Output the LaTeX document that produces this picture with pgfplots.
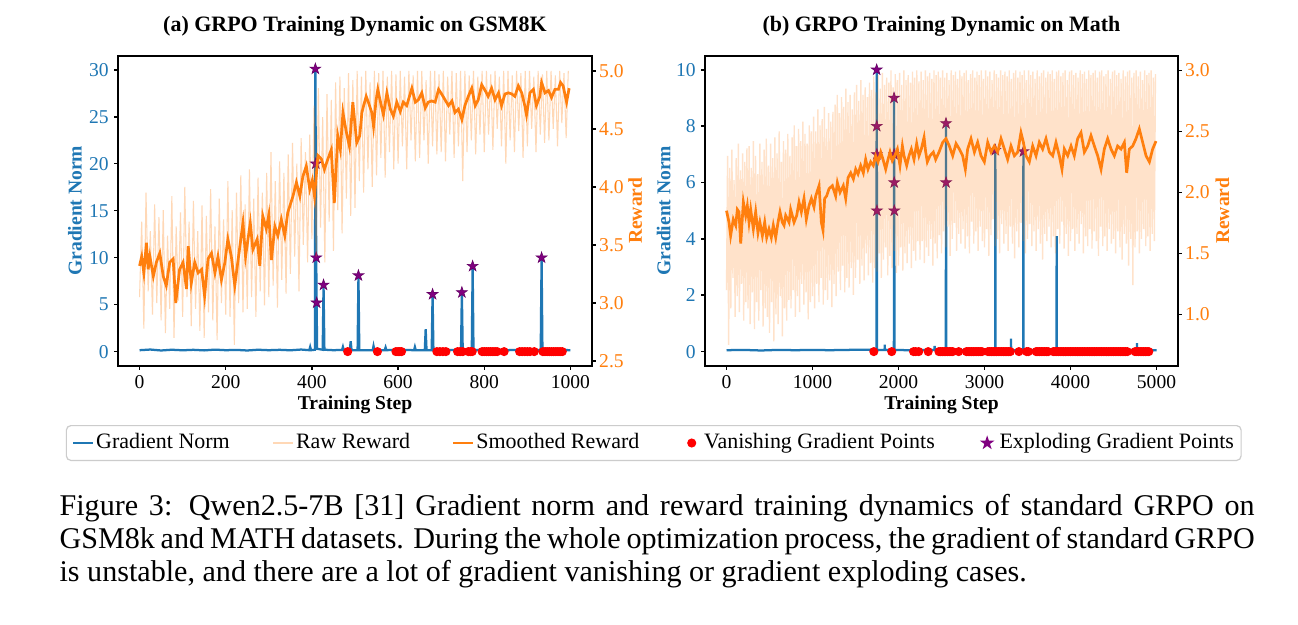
\documentclass[border=0pt]{standalone}
\usepackage{fontspec}
\setmainfont{Liberation Serif}
\usepackage{pgfplots}
\pgfplotsset{compat=1.18}

\definecolor{tabblue}{RGB}{31,119,180}
\definecolor{taborange}{RGB}{255,127,14}
\definecolor{vred}{RGB}{255,0,0}
\definecolor{epurple}{RGB}{128,0,128}

\pgfdeclareplotmark{fstar}{%
 \pgfpathmoveto{\pgfpointpolar{90}{\pgfplotmarksize}}%
 \pgfpathlineto{\pgfpointpolar{126}{0.382\pgfplotmarksize}}%
 \pgfpathlineto{\pgfpointpolar{162}{\pgfplotmarksize}}%
 \pgfpathlineto{\pgfpointpolar{198}{0.382\pgfplotmarksize}}%
 \pgfpathlineto{\pgfpointpolar{234}{\pgfplotmarksize}}%
 \pgfpathlineto{\pgfpointpolar{270}{0.382\pgfplotmarksize}}%
 \pgfpathlineto{\pgfpointpolar{306}{\pgfplotmarksize}}%
 \pgfpathlineto{\pgfpointpolar{342}{0.382\pgfplotmarksize}}%
 \pgfpathlineto{\pgfpointpolar{18}{\pgfplotmarksize}}%
 \pgfpathlineto{\pgfpointpolar{54}{0.382\pgfplotmarksize}}%
 \pgfpathclose\pgfusepathqfillstroke}

\pgfplotsset{
  gbase/.style={
    scale only axis, anchor=north west, width=157.46pt, height=102.98pt,
    /pgf/number format/assume math mode=true,
    tick align=outside, major tick length=1.3pt,
    every tick/.style={black, line width=0.5pt},
    axis line style={line width=0.55pt},
    tick label style={font=\fontsize{6.5}{7.8}\selectfont},
    label style={font=\fontsize{6.5}{7.8}\selectfont\bfseries},
    title style={font=\fontsize{7.3}{8.8}\selectfont\bfseries, at={(axis description cs:0.5,1)}, anchor=base, yshift=2.1pt},
    xlabel style={at={(axis description cs:0.5,0)}, anchor=base, yshift=-14.5pt},
    scaled x ticks=false,
    xticklabel style={inner sep=0pt, yshift=-1.9pt, /pgf/number format/1000 sep={}},
  },
  lineleg/.style={legend image code/.code={\draw[##1] (0pt,0pt) -- (6.6pt,0pt);}},
  markleg/.style={legend image code/.code={\path (0pt,0pt) (6.6pt,0pt); \draw[mark repeat=2, mark phase=2, ##1] plot coordinates {(0pt,0pt) (3.3pt,0pt) (6.6pt,0pt)};}},
  gradline/.style={tabblue, line width=0.75pt, forget plot},
  rawline/.style={taborange, draw opacity=0.3, line width=0.35pt, forget plot},
  smoothline/.style={taborange, line width=0.9pt, forget plot},
  vanish/.style={only marks, mark=*, mark size=1.3pt, vred, forget plot},
  explode/.style={only marks, mark=fstar, mark size=1.9pt, epurple, mark options={draw=epurple!80!black, line width=0.2pt}, forget plot},
}

\begin{document}
\begin{tikzpicture}
\path[fill=white, use as bounding box] (0pt,0pt) rectangle (431.19pt,-207.29pt);

% ---------- (a) left: gradient norm ----------
\begin{axis}[gbase, at={(39.2pt,-18.5pt)},
  xmin=-50, xmax=1050, ymin=-1.5, ymax=31.5,
  xtick={0,200,400,600,800,1000}, ytick={0,5,10,15,20,25,30}, tick pos=left,
  title={(a) GRPO Training Dynamic on GSM8K},
  xlabel={Training Step}, ylabel={Gradient Norm},
  ylabel style={text=tabblue, at={(axis description cs:-0.0907,0.5)}, anchor=center},
  yticklabel style={text=tabblue, inner sep=0pt, xshift=-1.6pt},
  legend columns=5, legend cell align=left,
  legend style={at={(axis description cs:1.1303,-0.1913)}, anchor=north,
    draw=black!20, line width=0.4pt, rounded corners=1.5pt, fill=white,
    font=\fontsize{7.3}{8.8}\selectfont, inner xsep=1.8pt, inner ysep=1.5pt,
    nodes={inner xsep=0.6pt, inner ysep=1pt},
    /tikz/every even column/.append style={column sep=13.3pt}},
]
\addplot[gradline] coordinates {(0,0.15)(25,0.22)(50,0.12)(75,0.2)(100,0.14)(125,0.19)(150,0.13)(175,0.21)(200,0.15)(225,0.18)(250,0.12)(275,0.2)(300,0.15)(325,0.19)(350,0.14)(375,0.22)(394,0.15)(396,0.5)(398,0.15)(407,0.2)(408,30.1)(409,20)(410,10)(411,5.2)(412,0.3)(425,0.2)(427,7.1)(429,0.2)(450,0.15)(470,0.18)(472,0.5)(474,0.15)(488,0.15)(490,1.1)(492,0.15)(506,0.15)(508,8.1)(510,0.15)(541,0.15)(543,0.6)(545,0.15)(569,0.15)(571,0.45)(573,0.15)(600,0.2)(637,0.15)(639,0.5)(641,0.15)(662,0.15)(664,2.4)(666,0.15)(678,0.15)(680,6.1)(682,0.15)(700,0.2)(746,0.15)(748,6.3)(750,0.15)(771,0.15)(773,9.1)(775,0.15)(800,0.2)(850,0.15)(900,0.2)(931,0.15)(933,10)(935,0.15)(960,0.2)(1000,0.15)};
\addplot[vanish] coordinates {(483,0)(552,0)(595,0)(600,0)(604,0)(608,0)(690,0)(697,0)(704,0)(711,0)(738,0)(744,0)(750,0)(763,0)(768,0)(772,0)(795,0)(800,0)(805,0)(810,0)(815,0)(820,0)(825,0)(830,0)(846,0)(882,0)(888,0)(894,0)(900,0)(906,0)(916,0)(936,0)(941,0)(946,0)(951,0)(956,0)(961,0)(966,0)(971,0)(976,0)(981,0)};
\addplot[explode] coordinates {(408,30.1)(409,20)(410,10)(411,5.2)(427,7.1)(508,8.1)(680,6.1)(748,6.3)(773,9.1)(933,10)};
\addlegendimage{lineleg, tabblue, line width=0.9pt}\addlegendentry{Gradient Norm}
\addlegendimage{lineleg, taborange, draw opacity=0.3, line width=0.9pt}\addlegendentry{Raw Reward}
\addlegendimage{lineleg, taborange, line width=0.9pt}\addlegendentry{Smoothed Reward}
\addlegendimage{markleg, only marks, mark=*, mark size=1.3pt, vred}\addlegendentry{Vanishing Gradient Points}
\addlegendimage{markleg, only marks, mark=fstar, mark size=1.9pt, epurple}\addlegendentry{Exploding Gradient Points}
\end{axis}

% ---------- (a) left: reward ----------
\begin{axis}[gbase, at={(39.2pt,-18.5pt)},
  xmin=-50, xmax=1050, ymin=2.46, ymax=5.13,
  axis y line*=right, axis x line=none,
  ytick={2.5,3,3.5,4,4.5,5},
  ylabel={Reward},
  ylabel style={text=taborange, at={(axis description cs:1.0911,0.5)}, anchor=center},
  yticklabel style={text=taborange, inner sep=0pt, xshift=0.9pt, /pgf/number format/.cd, fixed, fixed zerofill, precision=1},
]
\addplot[rawline] table[header=false, row sep=\\, x expr=\coordindex*5, y index=0]{
3.05\\3.70\\2.78\\3.95\\3.10\\3.62\\2.90\\3.85\\3.00\\3.74\\
2.85\\3.80\\2.74\\3.58\\2.95\\3.92\\2.70\\3.66\\3.02\\3.78\\
2.88\\4.00\\3.05\\3.70\\2.80\\3.88\\2.95\\3.62\\2.76\\3.84\\
2.70\\3.75\\2.92\\3.98\\2.85\\3.66\\2.68\\3.90\\3.00\\3.72\\
2.90\\4.05\\2.88\\3.80\\2.64\\3.95\\3.00\\4.10\\2.92\\3.85\\
2.95\\4.15\\3.05\\3.90\\2.88\\4.08\\3.10\\3.95\\2.98\\4.12\\
3.05\\4.30\\3.15\\4.05\\2.96\\4.22\\3.20\\4.12\\3.08\\4.28\\
3.25\\4.38\\3.40\\4.20\\3.10\\4.42\\3.50\\4.30\\3.35\\4.45\\
3.55\\4.70\\3.40\\4.85\\3.65\\4.60\\3.35\\4.80\\3.70\\4.75\\
3.45\\4.90\\3.80\\4.95\\3.60\\4.85\\3.90\\4.98\\3.75\\4.92\\
3.82\\5.00\\4.05\\4.95\\3.95\\5.00\\4.15\\4.90\\4.00\\5.00\\
4.10\\4.98\\4.25\\5.00\\4.08\\4.95\\4.30\\5.00\\4.15\\4.97\\
4.20\\5.00\\4.35\\4.95\\4.15\\5.00\\4.40\\4.96\\4.22\\5.00\\
4.25\\5.00\\4.40\\4.92\\4.20\\5.00\\4.35\\5.00\\4.28\\4.97\\
4.30\\5.00\\4.22\\4.95\\4.45\\5.00\\4.25\\4.98\\4.35\\5.00\\
4.05\\5.00\\4.30\\4.96\\4.40\\5.00\\4.28\\4.95\\4.45\\5.00\\
4.30\\5.00\\4.45\\4.97\\4.32\\5.00\\4.50\\4.95\\4.35\\5.00\\
4.20\\5.00\\4.40\\4.96\\4.30\\5.00\\4.48\\4.98\\4.25\\5.00\\
4.35\\5.00\\4.50\\4.95\\4.30\\5.00\\4.45\\4.97\\4.38\\5.00\\
4.40\\5.00\\4.50\\4.96\\4.35\\5.00\\4.55\\4.98\\4.42\\5.00\\
};
\addplot[smoothline] coordinates {(0,3.32)(5,3.40)(10,3.26)(16,3.52)(20,3.29)(24,3.40)(32,3.23)(39,3.35)(47,3.43)(55,3.23)(62,3.15)(70,3.35)(78,3.38)(84,3.00)(93,3.29)(101,3.35)(109,3.12)(113,3.49)(120,3.17)(128,3.35)(136,3.26)(144,3.29)(151,3.06)(159,3.38)(167,3.43)(175,3.26)(182,3.40)(190,3.20)(198,3.35)(205,3.55)(213,3.40)(221,3.15)(229,3.38)(240,3.69)(246,3.40)(257,3.69)(263,3.46)(273,3.55)(279,3.32)(286,3.75)(294,3.64)(300,3.76)(306,3.37)(314,3.66)(321,3.58)(329,3.72)(337,3.58)(344,3.78)(356,3.92)(364,4.04)(372,3.92)(379,4.09)(387,4.18)(395,3.98)(401,4.06)(406,3.92)(414,4.27)(422,4.24)(429,4.15)(437,4.24)(445,4.32)(452,3.86)(460,4.44)(466,4.32)(472,4.64)(480,4.47)(487,4.35)(495,4.73)(504,4.38)(511,4.44)(516,4.64)(520,4.70)(526,4.78)(531,4.73)(539,4.64)(543,4.52)(549,4.75)(553,4.84)(558,4.75)(566,4.62)(574,4.81)(582,4.67)(589,4.61)(597,4.73)(605,4.65)(612,4.73)(620,4.70)(632,4.85)(640,4.73)(647,4.75)(655,4.81)(663,4.68)(670,4.73)(678,4.74)(686,4.73)(694,4.84)(701,4.80)(709,4.75)(717,4.70)(725,4.74)(732,4.64)(740,4.67)(748,4.58)(755,4.70)(763,4.78)(771,4.85)(779,4.70)(786,4.75)(794,4.88)(802,4.83)(809,4.78)(817,4.85)(825,4.75)(833,4.81)(840,4.70)(848,4.80)(856,4.81)(864,4.80)(871,4.78)(879,4.87)(887,4.81)(894,4.70)(898,4.62)(906,4.81)(914,4.84)(921,4.70)(929,4.78)(933,4.90)(941,4.81)(949,4.83)(956,4.77)(964,4.84)(972,4.84)(977,4.90)(983,4.87)(991,4.73)(997,4.85)};
\end{axis}

% ---------- (b) right: gradient norm ----------
\begin{axis}[gbase, at={(234.2pt,-18.5pt)}, width=157.13pt,
  xmin=-250, xmax=5250, ymin=-0.5, ymax=10.5,
  xtick={0,1000,2000,3000,4000,5000}, ytick={0,2,4,6,8,10}, tick pos=left,
  title={(b) GRPO Training Dynamic on Math},
  xlabel={Training Step}, ylabel={Gradient Norm},
  ylabel style={text=tabblue, at={(axis description cs:-0.0873,0.5)}, anchor=center},
  yticklabel style={text=tabblue, inner sep=0pt, xshift=-1.6pt},
]
\addplot[gradline] coordinates {(0,0.05)(200,0.06)(400,0.04)(600,0.06)(800,0.05)(1000,0.06)(1200,0.05)(1400,0.06)(1600,0.07)(1744,0.06)(1746,10)(1747,8)(1748,7)(1749,5)(1751,0.06)(1838,0.06)(1840,0.25)(1842,0.06)(1946,0.06)(1948,9)(1949,7)(1950,6)(1951,5)(1953,0.06)(2100,0.05)(2418,0.06)(2420,0.2)(2422,0.06)(2550,0.06)(2552,8.1)(2553,6)(2555,0.06)(2800,0.05)(3124,0.05)(3126,7.15)(3128,0.05)(3306,0.05)(3308,0.46)(3310,0.05)(3450,0.05)(3452,7.1)(3454,0.05)(3837,0.05)(3839,4.1)(3841,0.05)(4000,0.06)(4200,0.05)(4500,0.06)(4771,0.05)(4773,0.3)(4775,0.05)(5000,0.05)};
\addplot[vanish] coordinates {(1713,0)(1921,0)(2175,0)(2200,0)(2235,0)(2345,0)(2470,0)(2490,0)(2510,0)(2530,0)(2550,0)(2570,0)(2590,0)(2610,0)(2630,0)(2700,0)(2790,0)(2810,0)(2830,0)(2850,0)(2870,0)(2890,0)(2910,0)(2930,0)(2950,0)(2970,0)(3040,0)(3060,0)(3080,0)(3100,0)(3120,0)(3140,0)(3160,0)(3180,0)(3200,0)(3220,0)(3240,0)(3260,0)(3280,0)(3300,0)(3400,0)(3490,0)(3510,0)(3600,0)(3620,0)(3640,0)(3660,0)(3680,0)(3700,0)(3720,0)(3740,0)(3800,0)(3820,0)(3840,0)(3860,0)(3880,0)(3900,0)(3920,0)(3940,0)(3960,0)(3980,0)(4000,0)(4020,0)(4040,0)(4060,0)(4080,0)(4100,0)(4120,0)(4140,0)(4160,0)(4180,0)(4200,0)(4220,0)(4240,0)(4260,0)(4280,0)(4300,0)(4320,0)(4340,0)(4360,0)(4380,0)(4400,0)(4420,0)(4440,0)(4460,0)(4480,0)(4500,0)(4520,0)(4540,0)(4560,0)(4580,0)(4600,0)(4620,0)(4640,0)(4660,0)(4750,0)(4770,0)(4790,0)(4810,0)(4830,0)(4850,0)(4870,0)(4890,0)(4910,0)};
\addplot[explode] coordinates {(1746,10)(1747,8)(1748,7)(1749,5)(1948,9)(1949,7)(1950,6)(1951,5)(2552,8.1)(2553,6)(3126,7.15)(3452,7.1)};
\end{axis}

% ---------- (b) right: reward ----------
\begin{axis}[gbase, at={(234.2pt,-18.5pt)}, width=157.13pt,
  xmin=-250, xmax=5250, ymin=0.58, ymax=3.12,
  axis y line*=right, axis x line=none,
  ytick={1,1.5,2,2.5,3},
  ylabel={Reward},
  ylabel style={text=taborange, at={(axis description cs:1.0939,0.5)}, anchor=center},
  yticklabel style={text=taborange, inner sep=0pt, xshift=0.9pt, /pgf/number format/.cd, fixed, fixed zerofill, precision=1},
]
\addplot[rawline, draw opacity=0.22, line width=0.45pt] table[header=false, row sep=\\, x expr=\coordindex*12.5, y index=0]{
1.20\\2.30\\0.75\\2.20\\1.05\\2.35\\1.30\\2.10\\0.98\\2.28\\1.15\\2.40\\1.02\\2.18\\1.25\\2.32\\0.95\\2.25\\1.10\\2.36\\
1.05\\2.38\\0.92\\2.20\\1.18\\2.42\\0.88\\2.30\\1.10\\2.15\\0.95\\2.40\\1.20\\2.25\\0.90\\2.35\\1.05\\2.44\\0.98\\2.22\\
0.85\\2.40\\1.10\\2.28\\0.78\\2.45\\1.00\\2.32\\0.92\\2.50\\1.15\\2.25\\0.82\\2.42\\1.05\\2.35\\0.95\\2.48\\1.12\\2.30\\
1.05\\2.45\\1.20\\2.55\\0.98\\2.38\\1.15\\2.52\\1.02\\2.42\\1.25\\2.58\\1.08\\2.48\\1.18\\2.40\\0.96\\2.55\\1.10\\2.50\\
1.15\\2.62\\1.05\\2.50\\1.25\\2.68\\1.10\\2.55\\1.30\\2.60\\1.08\\2.70\\1.20\\2.52\\1.12\\2.65\\1.28\\2.58\\1.06\\2.66\\
1.25\\2.72\\1.15\\2.80\\1.35\\2.65\\1.20\\2.78\\1.40\\2.70\\1.18\\2.85\\1.30\\2.74\\1.22\\2.80\\1.38\\2.68\\1.16\\2.82\\
1.30\\2.88\\1.45\\2.75\\1.25\\2.92\\1.40\\2.80\\1.28\\2.86\\1.50\\2.78\\1.32\\2.90\\1.42\\2.84\\1.26\\2.95\\1.38\\2.82\\
1.35\\2.96\\1.50\\2.85\\1.30\\2.98\\1.45\\2.88\\1.55\\2.94\\1.32\\2.90\\1.48\\3.00\\1.38\\2.86\\1.52\\2.97\\1.34\\2.92\\
1.40\\2.98\\1.55\\2.88\\1.36\\3.00\\1.50\\2.92\\1.42\\2.96\\1.58\\2.90\\1.38\\2.99\\1.52\\2.94\\1.44\\3.00\\1.60\\2.91\\
1.45\\2.99\\1.60\\2.92\\1.42\\3.00\\1.55\\2.95\\1.48\\2.98\\1.62\\2.93\\1.40\\3.00\\1.58\\2.96\\1.46\\2.99\\1.65\\2.94\\
1.50\\3.00\\1.68\\2.94\\1.55\\2.98\\1.72\\2.92\\1.48\\3.00\\1.62\\2.96\\1.75\\2.99\\1.52\\2.93\\1.66\\3.00\\1.58\\2.95\\
1.70\\2.98\\1.54\\3.00\\1.64\\2.92\\1.50\\2.97\\1.76\\3.00\\1.58\\2.94\\1.68\\2.99\\1.52\\2.96\\1.72\\3.00\\1.60\\2.93\\
1.55\\3.00\\1.70\\2.95\\1.48\\2.99\\1.65\\2.92\\1.78\\3.00\\1.56\\2.97\\1.62\\2.94\\1.50\\3.00\\1.74\\2.96\\1.58\\2.99\\
1.66\\2.95\\1.52\\3.00\\1.72\\2.93\\1.58\\2.98\\1.46\\3.00\\1.68\\2.94\\1.55\\2.99\\1.75\\2.96\\1.60\\3.00\\1.50\\2.92\\
1.62\\3.00\\1.74\\2.96\\1.56\\2.99\\1.68\\2.93\\1.52\\3.00\\1.70\\2.95\\1.58\\2.98\\1.45\\3.00\\1.66\\2.94\\1.60\\2.99\\
1.72\\2.97\\1.55\\3.00\\1.64\\2.93\\1.50\\2.99\\1.70\\3.00\\1.58\\2.95\\1.76\\2.98\\1.54\\3.00\\1.66\\2.92\\1.48\\2.99\\
1.60\\3.00\\1.70\\2.96\\1.52\\2.98\\1.66\\2.94\\1.58\\3.00\\1.74\\2.97\\1.50\\2.99\\1.64\\2.93\\1.56\\3.00\\1.70\\2.96\\
1.54\\2.98\\1.68\\3.00\\1.60\\2.94\\1.48\\2.99\\1.72\\3.00\\1.56\\2.95\\1.64\\2.97\\1.52\\3.00\\1.70\\2.93\\1.58\\2.99\\
1.62\\3.00\\1.50\\2.96\\1.68\\2.98\\1.55\\2.93\\1.45\\3.00\\1.66\\2.95\\1.58\\2.99\\1.40\\3.00\\1.62\\2.94\\1.24\\2.98\\
1.55\\3.00\\1.68\\2.95\\1.50\\2.99\\1.62\\2.92\\1.70\\3.00\\1.56\\2.96\\1.64\\2.98\\1.52\\3.00\\1.66\\2.94\\1.60\\2.97\\
};
\addplot[smoothline] coordinates {(0,1.85)(29,1.755)(48,1.645)(79,1.78)(107,1.73)(126,1.86)(145,1.84)(165,1.58)(196,1.92)(223,1.81)(242,1.89)(262,1.755)(281,1.86)(312,1.70)(339,1.84)(366,1.67)(388,1.755)(417,1.645)(444,1.755)(467,1.63)(494,1.70)(521,1.63)(544,1.73)(572,1.63)(599,1.755)(622,1.84)(649,1.755)(669,1.73)(688,1.81)(727,1.755)(746,1.86)(785,1.755)(816,1.81)(843,1.92)(870,1.84)(901,1.95)(928,1.78)(959,1.89)(987,1.95)(1017,1.88)(1037,1.97)(1076,2.055)(1103,1.755)(1122,1.69)(1141,1.95)(1164,1.97)(1192,2.03)(1231,2.055)(1269,1.97)(1289,2.08)(1320,2.00)(1358,2.055)(1386,1.95)(1413,2.12)(1444,2.16)(1475,2.11)(1502,2.19)(1529,2.15)(1560,2.22)(1591,2.16)(1618,2.27)(1645,2.19)(1676,2.25)(1707,2.22)(1734,2.30)(1762,2.25)(1793,2.33)(1820,2.27)(1851,2.19)(1878,2.27)(1901,2.33)(1928,2.26)(1956,2.30)(1987,2.355)(2017,2.22)(2045,2.38)(2064,2.30)(2095,2.22)(2122,2.30)(2149,2.355)(2180,2.27)(2211,2.40)(2238,2.30)(2265,2.355)(2297,2.45)(2316,2.33)(2335,2.25)(2366,2.30)(2405,2.33)(2432,2.27)(2471,2.33)(2514,2.41)(2552,2.44)(2591,2.38)(2630,2.30)(2669,2.40)(2707,2.355)(2746,2.30)(2777,2.19)(2804,2.355)(2843,2.44)(2882,2.33)(2920,2.41)(2959,2.30)(2998,2.25)(3037,2.41)(3076,2.33)(3114,2.38)(3153,2.33)(3192,2.44)(3231,2.355)(3269,2.27)(3308,2.38)(3347,2.30)(3386,2.33)(3424,2.49)(3452,2.41)(3483,2.30)(3521,2.25)(3560,2.38)(3599,2.30)(3637,2.41)(3676,2.355)(3715,2.44)(3754,2.33)(3793,2.30)(3831,2.41)(3870,2.30)(3901,2.19)(3928,2.355)(3967,2.30)(4006,2.38)(4044,2.30)(4083,2.44)(4122,2.49)(4161,2.33)(4200,2.38)(4238,2.465)(4277,2.38)(4316,2.30)(4355,2.19)(4393,2.355)(4432,2.44)(4471,2.355)(4510,2.30)(4548,2.38)(4587,2.355)(4626,2.41)(4653,2.16)(4684,2.355)(4723,2.38)(4761,2.44)(4800,2.52)(4839,2.41)(4878,2.30)(4917,2.25)(4955,2.355)(4994,2.42)};
\end{axis}

% ---------- caption ----------
\node[anchor=base west, inner sep=0pt] at (19.6pt,-171.1pt) {\parbox[t]{397pt}{\fontsize{10}{11}\selectfont Figure 3: Qwen2.5-7B [31] Gradient norm and reward training dynamics of standard GRPO on GSM8k and MATH datasets. During the whole optimization process, the gradient of standard GRPO is unstable, and there are a lot of gradient vanishing or gradient exploding cases.}};
\end{tikzpicture}
\end{document}
